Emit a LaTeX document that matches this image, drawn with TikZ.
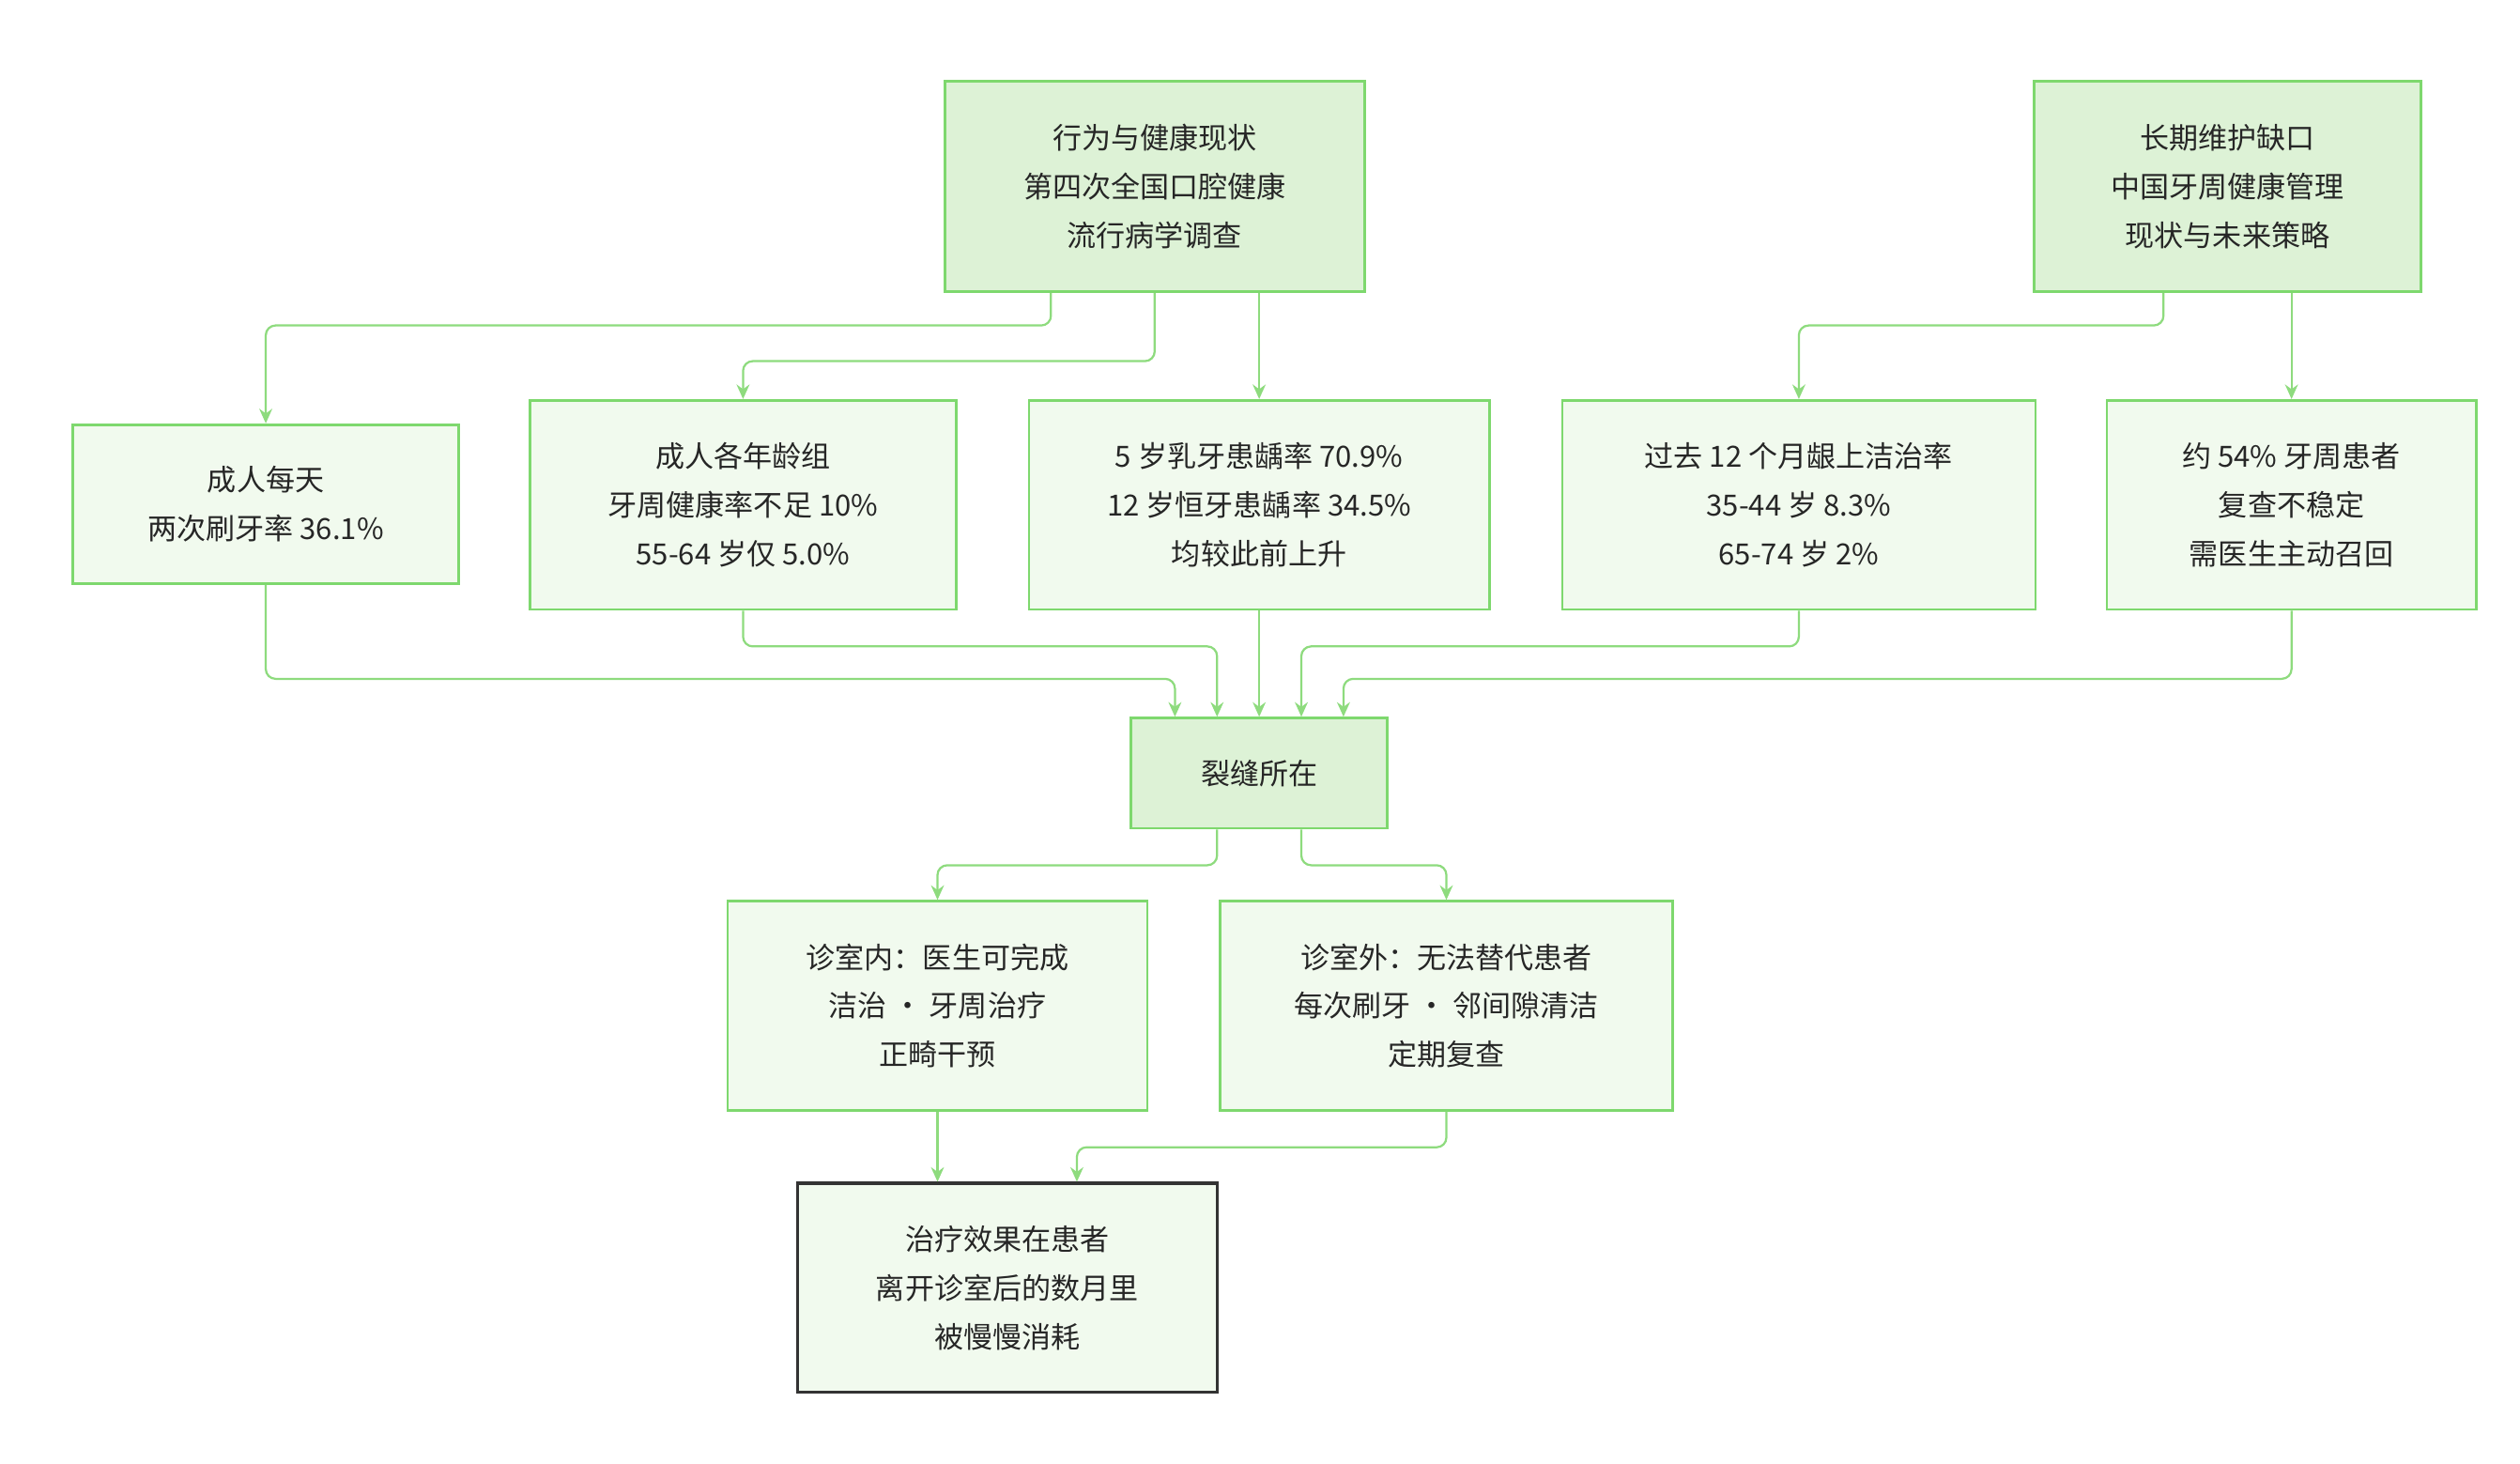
\documentclass[tikz,border=0pt]{standalone}
\usepackage{fontspec}
\setmainfont{Noto Sans CJK SC}
\usetikzlibrary{arrows.meta}
\definecolor{bd}{HTML}{7ED86E}
\definecolor{fa}{HTML}{DDF2D6}
\definecolor{fb}{HTML}{F1FAEE}
\definecolor{ed}{HTML}{8EDB7E}
\begin{document}
\begin{tikzpicture}[x=1pt,y=-1pt,
 box/.style={draw=bd,line width=1.6pt,fill=fb,align=center,inner sep=0pt,font=\fontsize{18}{30}\selectfont,text=black!85},
 hi/.style={box,fill=fa},
 fin/.style={box,draw=black!80,line width=1.8pt},
 e/.style={draw=ed,line width=1.3pt,rounded corners=6pt,-{Stealth[length=9pt,width=8pt]}}]
\useasboundingbox (0,0) rectangle (1555,903);
\node[hi,minimum width=259,minimum height=130] (t1) at (712.5,115) {行为与健康现状\\第四次全国口腔健康\\流行病学调查};
\node[hi,minimum width=239,minimum height=130] (t2) at (1374.5,115) {长期维护缺口\\中国牙周健康管理\\现状与未来策略};
\node[box,minimum width=238,minimum height=98] (n1) at (164,311) {成人每天\\两次刷牙率 36.1\%};
\node[box,minimum width=263,minimum height=129] (n2) at (458.5,311.5) {成人各年龄组\\牙周健康率不足 10\%\\55-64 岁仅 5.0\%};
\node[box,minimum width=284,minimum height=129] (n3) at (777,311.5) {5 岁乳牙患龋率 70.9\%\\12 岁恒牙患龋率 34.5\%\\均较此前上升};
\node[box,minimum width=292,minimum height=129] (n4) at (1110,311.5) {过去 12 个月龈上洁治率\\35-44 岁 8.3\%\\65-74 岁 2\%};
\node[box,minimum width=228,minimum height=129] (n5) at (1414,311.5) {约 54\% 牙周患者\\复查不稳定\\需医生主动召回};
\node[hi,minimum width=158,minimum height=68] (m) at (777,477) {裂缝所在};
\node[box,minimum width=259,minimum height=129] (in) at (578.5,620.5) {诊室内：医生可完成\\洁治 · 牙周治疗\\正畸干预};
\node[box,minimum width=279,minimum height=129] (out) at (892.5,620.5) {诊室外：无法替代患者\\每次刷牙 · 邻间隙清洁\\定期复查};
\node[fin,minimum width=259,minimum height=129] (f) at (621.5,794.5) {治疗效果在患者\\离开诊室后的数月里\\被慢慢消耗};
\draw[e] ([xshift=-64pt]t1.south) -- ++(0,20) -| (n1.north);
\draw[e] (t1.south) -- ++(0,42) -| (n2.north);
\draw[e] ([xshift=64.5pt]t1.south) -- (n3.north);
\draw[e] ([xshift=-39.5pt]t2.south) -- ++(0,20) -| (n4.north);
\draw[e] ([xshift=39.5pt]t2.south) -- (n5.north);
\draw[e] (n1.south) -- ++(0,58) -| ([xshift=-52pt]m.north);
\draw[e] (n2.south) -- ++(0,22) -| ([xshift=-26pt]m.north);
\draw[e] (n3.south) -- (m.north);
\draw[e] (n4.south) -- ++(0,22) -| ([xshift=26pt]m.north);
\draw[e] (n5.south) -- ++(0,42) -| ([xshift=52pt]m.north);
\draw[e] ([xshift=-26pt]m.south) -- ++(0,22) -| (in.north);
\draw[e] ([xshift=26pt]m.south) -- ++(0,22) -| (out.north);
\draw[e] (in.south) -- ([xshift=-43pt]f.north);
\draw[e] (out.south) -- ++(0,22) -| ([xshift=43pt]f.north);
\end{tikzpicture}
\end{document}
